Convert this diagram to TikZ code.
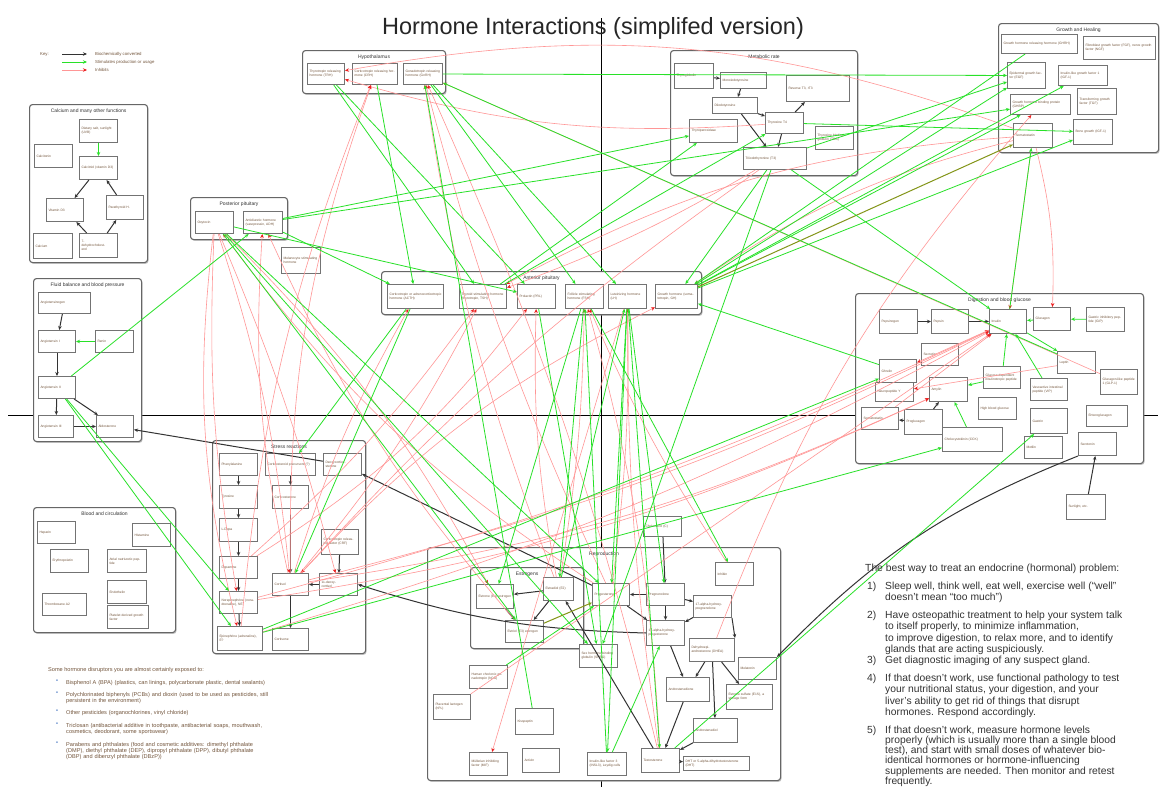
\documentclass[tikz,border=0pt]{standalone}
\usepackage{fontspec}
\setmainfont{Liberation Sans}
\usetikzlibrary{arrows.meta,shadows,calc}
\definecolor{stimg}{RGB}{40,225,40}
\definecolor{inhr}{RGB}{255,150,150}
\definecolor{inhrh}{RGB}{235,30,30}
\definecolor{txtc}{RGB}{115,85,60}
\definecolor{bulc}{RGB}{60,110,190}
\tikzset{
 sbox/.style={draw=black!55, line width=1pt, fill=white, anchor=north west, inner sep=2pt, align=left, font=\fontsize{3.3}{3.9}\selectfont, text=txtc},
 gbox/.style={draw=black!60, line width=1.1pt, rounded corners=3pt, fill=white, anchor=north west, inner sep=0pt, drop shadow={shadow xshift=1pt, shadow yshift=-1.3pt, fill=black!45}},
 gtitle/.style={font=\fontsize{5}{6}\selectfont, text=black!80, inner sep=0pt},
 conv/.style={draw=black!80, line width=1pt, -{Stealth[length=4pt,width=3.5pt]}},
 stim/.style={draw=stimg, line width=0.8pt, -{Stealth[length=4pt,width=3.5pt]}},
 inh/.style={draw=inhr, line width=0.6pt, -{Stealth[length=4pt,width=3.5pt,color=inhrh]}},
 mix/.style={draw=olive!70!stimg, line width=1pt, -{Stealth[length=4pt,width=3.5pt]}},
 keytxt/.style={font=\fontsize{4.3}{5}\selectfont, text=txtc, anchor=west, inner sep=0pt},
 bigtxt/.style={font=\fontsize{10.3}{11.3}\selectfont, text=black!80, anchor=north west, inner sep=0pt, align=left},
 smtxt/.style={font=\fontsize{5.6}{6.3}\selectfont, text=txtc, anchor=north west, inner sep=0pt, align=left},
}
\newcommand\mybox[6]{%
 \pgfmathsetmacro\bxW{#4-#2}\pgfmathsetmacro\bxH{#5-#3}\pgfmathsetmacro\bxT{#4-#2-4}%
 \node[sbox,minimum width=\bxW pt,minimum height=\bxH pt,text width=\bxT pt] (#1) at (#2,#3) {#6};}
\newcommand\mygroup[6]{%
 \pgfmathsetmacro\bxW{#4-#2}\pgfmathsetmacro\bxH{#5-#3}%
 \node[gbox,minimum width=\bxW pt,minimum height=\bxH pt] (#1) at (#2,#3) {};%
 \node[gtitle] (#1t) at ($(#1.north)+(0,7)$) {#6};}
\begin{document}
\begin{tikzpicture}[x=1pt,y=-1pt]
\useasboundingbox[fill=white] (0,0) rectangle (1160,787);
% axes
\draw[line width=1pt] (601,18) -- (601,787);
\draw[line width=1pt] (8,415) -- (1158,415);
% title
\node[font=\fontsize{23.5}{28}\selectfont, text=black!85] (title) at (593,28) {Hormone Interactions (simplifed version)};
% key
\node[keytxt] (keyl) at (40,54) {Key:};
\coordinate (k1a) at (62,54); \coordinate (k1b) at (87,54);
\coordinate (k2a) at (62,62); \coordinate (k2b) at (87,62);
\coordinate (k3a) at (62,70); \coordinate (k3b) at (87,70);
\draw[conv] (k1a) -- (k1b);
\draw[stim] (k2a) -- (k2b);
\draw[inh] (k3a) -- (k3b);
\node[keytxt] (kt1) at (95,54) {Biochemically converted};
\node[keytxt] (kt2) at (95,62) {Stimulates production or usage};
\node[keytxt] (kt3) at (95,70) {Inhibits};

% ---------- groups
\mygroup{ca}{29}{104}{147}{262}{Calcium and many other functions}
\mygroup{pp}{190}{197}{287}{239}{Posterior pituitary}
\mygroup{hy}{302}{50}{445}{93}{Hypothalamus}
\mygroup{mr}{670}{50}{857}{175}{Metabolic rate}
\mygroup{gh}{998}{23}{1158}{152}{Growth and Healing}
\mygroup{ap}{381}{271}{701}{314}{Anterior pituitary}
\mygroup{fb}{33}{278}{141}{441}{Fluid balance and blood pressure}
\mygroup{dg}{855}{293}{1143}{463}{Digestion and blood glucose}
\mygroup{sr}{212}{440}{365}{653}{Stress reactions}
\mygroup{bc}{33}{507}{175}{632}{Blood and circulation}
\mygroup{rp}{427}{547}{780}{780}{Reproduction}
\mygroup{rpg}{470}{567}{583}{648}{Estrogens}

% ---------- calcium
\mybox{caDiet}{79}{119}{117}{142}{Dietary salt, sunlight (UVB)}
\mybox{caCalcitonin}{34}{144}{72}{167}{Calcitonin}
\mybox{caCalcitriol}{79}{156}{117}{179}{Calcitriol (vitamin D3)}
\mybox{caVitD}{46}{198}{83}{221}{Vitamin D3}
\mybox{caPTH}{106}{195}{143}{219}{Parathyroid H.}
\mybox{caCalcium}{33}{233}{72}{258}{Calcium}
\mybox{caDehydro}{79}{233}{117}{257}{7-\\dehydrocholest-\\erol}
% ---------- posterior pituitary
\mybox{ppOxy}{195}{211}{233}{233}{Oxytocin}
\mybox{ppADH}{243}{211}{282}{233}{Antidiuretic hormone (vasopressin, ADH)}
\mybox{msh}{281}{247}{320}{273}{Melanocyte stimulating hormone}
% ---------- hypothalamus
\mybox{hyTRH}{307}{63}{344}{84}{Thyrotropin releasing hormone (TRH)}
\mybox{hyCRH}{352}{63}{397}{84}{Corticotropin releasing hormone (CRH)}
\mybox{hyGnRH}{403}{63}{442}{84}{Gonadotropin releasing hormone (GnRH)}
% ---------- metabolic
\mybox{mrTg}{674}{63}{713}{88}{Thyroglobulin}
\mybox{mrMIT}{720}{72}{766}{88}{Monoiodotyrosine}
\mybox{mrDIT}{712}{97}{757}{113}{Diiodotyrosine}
\mybox{mrRT3}{786}{75}{849}{101}{Reverse T3, rT3}
\mybox{mrT4}{765}{112}{803}{133}{Thyroxine T4}
\mybox{mrTPO}{689}{119}{737}{142}{Thyroperoxidase}
\mybox{mrT3}{743}{147}{806}{169}{Triiodothyronine (T3)}
\mybox{mrTBG}{815}{126}{853}{149}{Thyroxine binding globulin (TBG)}
% ---------- growth
\mybox{ghGHRH}{1001}{34}{1077}{53}{Growth hormone releasing hormone (GHRH)}
\mybox{ghFGF}{1083}{36}{1155}{59}{Fibroblast growth factor (FGF), nerve growth factor (NGF)}
\mybox{ghEGF}{1007}{62}{1045}{88}{Epidermal growth factor (EGF)}
\mybox{ghIGF}{1058}{65}{1107}{85}{Insulin-like growth factor 1 (IGF-1)}
\mybox{ghGHIH}{1010}{94}{1070}{114}{Growth hormone binding protein (GHBP)}
\mybox{ghTGF}{1077}{88}{1116}{114}{Transforming growth factor (TGF)}
\mybox{ghSS}{1013}{123}{1052}{147}{Somatostatin}
\mybox{ghBone}{1073}{119}{1112}{144}{Bone growth (IGF-1)}
% ---------- anterior pituitary
\mybox{apACTH}{387}{284}{443}{308}{Corticotropin or adrenocorticotropic hormone (ACTH)}
\mybox{apTSH}{459}{284}{506}{308}{Thyroid stimulating hormone (thyrotropin, TSH)}
\mybox{apPRL}{517}{284}{555}{308}{Prolactin (PRL)}
\mybox{apFSH}{565}{284}{603}{308}{Follicle stimulating hormone (FSH)}
\mybox{apLH}{608}{284}{646}{308}{Luteinizing hormone (LH)}
\mybox{apGH}{655}{284}{697}{308}{Growth hormone (somatotropin, GH)}
% ---------- fluid
\mybox{fbAgt}{38}{292}{90}{313}{Angiotensinogen}
\mybox{fbA1}{38}{330}{75}{352}{Angiotensin I}
\mybox{fbRenin}{95}{330}{133}{352}{Renin}
\mybox{fbA2}{38}{376}{75}{398}{Angiotensin II}
\mybox{fbA3}{38}{415}{73}{437}{Angiotensin III}
\mybox{fbAldo}{96}{415}{133}{437}{Aldosterone}
% ---------- digestion
\mybox{dgPepsinogen}{879}{309}{917}{333}{Pepsinogen}
\mybox{dgPepsin}{931}{309}{968}{333}{Pepsin}
\mybox{dgInsulin}{989}{309}{1026}{333}{Insulin}
\mybox{dgGlucagon}{1033}{307}{1070}{330}{Glucagon}
\mybox{dgGIPtop}{1086}{307}{1124}{331}{Gastric inhibitory peptide (GIP)}
\mybox{dgSecretin}{921}{343}{958}{365}{Secretin}
\mybox{dgLeptin}{1057}{351}{1095}{373}{Leptin}
\mybox{dgCGRP}{1100}{369}{1137}{394}{Glucagon-like peptide 1 (GLP-1)}
\mybox{dgGhrelin}{879}{359}{916}{382}{Ghrelin}
\mybox{dgNPY}{875}{382}{913}{401}{Neuropeptide Y}
\mybox{dgAmylin}{929}{377}{967}{401}{Amylin}
\mybox{dgGLP}{983}{366}{1020}{388}{Glucose-dependent insulinotropic peptide}
\mybox{dgVIP}{1030}{378}{1067}{400}{Vasoactive intestinal peptide (VIP)}
\mybox{dgHigh}{978}{397}{1016}{419}{High blood glucose}
\mybox{dgSomato}{861}{407}{898}{429}{Somatostatin}
\mybox{dgProglu}{904}{409}{942}{434}{Proglucagon}
\mybox{dgCCK}{942}{427}{1002}{451}{Cholecystokinin (CCK)}
\mybox{dgGastrin}{1030}{408}{1067}{433}{Gastrin}
\mybox{dgEntero}{1086}{405}{1127}{426}{Enteroglucagon}
\mybox{dgMotilin}{1024}{436}{1062}{458}{Motilin}
\mybox{dgSerotonin}{1078}{432}{1116}{455}{Serotonin}
\mybox{sun}{1066}{494}{1105}{519}{Sunlight, etc.}
% ---------- stress
\mybox{srPhe}{219}{453}{257}{475}{Phenylalanine}
\mybox{srPreg}{265}{453}{315}{475}{Corticosteroid precursors (?)}
\mybox{srDOC}{323}{453}{361}{475}{Deoxycortico-\\sterone}
\mybox{srTyr}{219}{485}{257}{508}{Tyrosine}
\mybox{srCort}{272}{485}{308}{508}{Corticosterone}
\mybox{srLdopa}{219}{518}{257}{541}{L-Dopa}
\mybox{srCRF}{321}{529}{358}{554}{Corticotropin releasing factor (CRF)}
\mybox{srDopa}{219}{556}{257}{578}{Dopamine}
\mybox{srCortisol}{272}{573}{308}{595}{Cortisol}
\mybox{srDeoxy}{319}{573}{357}{595}{11-deoxy-\\cortisol}
\mybox{srNE}{219}{591}{257}{613}{Norepinephrine (noradrenaline), NE}
\mybox{srEpi}{217}{626}{262}{650}{Epinephrine (adrenaline), E?}
\mybox{srCortisone}{272}{628}{308}{650}{Cortisone}
% ---------- blood
\mybox{bcHeparin}{37}{521}{75}{543}{Heparin}
\mybox{bcHistamine}{132}{523}{170}{546}{Histamine}
\mybox{bcEPO}{50}{549}{88}{572}{Erythropoietin}
\mybox{bcANP}{107}{549}{146}{572}{Atrial natriuretic peptide}
\mybox{bcEndo}{107}{580}{146}{603}{Endothelin}
\mybox{bcTXA}{42}{593}{86}{615}{Thromboxane A2}
\mybox{bcPDGF}{107}{605}{148}{628}{Platelet derived growth factor}
% ---------- reproduction
\mybox{rpE1}{476}{584}{513}{608}{Estrone (E1) estrogen}
\mybox{rpE2}{543}{577}{573}{600}{Estradiol (E2)}
\mybox{rpE3}{505}{620}{543}{642}{Estriol (E3) estrogen}
\mybox{rpProg}{592}{583}{629}{605}{Progesterone}
\mybox{rpPreg}{646}{583}{684}{605}{Pregnenolone}
\mybox{rpChol}{643}{516}{681}{536}{Cholesterol (C)}
\mybox{rp17Preg}{693}{595}{731}{617}{17-alpha-hydroxy-pregnenolone}
\mybox{rp17P}{646}{620}{684}{645}{17-alpha-hydroxy-progesterone}
\mybox{rpDHEA}{689}{638}{734}{661}{Dehydroepi-\\androsterone (DHEA)}
\mybox{rpSHBG}{579}{644}{617}{667}{Sex hormone binding globulin (SHBG)}
\mybox{rpInhibin}{715}{562}{753}{585}{Inhibin}
\mybox{rpMelatonin}{738}{657}{776}{679}{Melatonin}
\mybox{rphCG}{469}{665}{507}{688}{Human chorionic gonadotropin (hCG)}
\mybox{rphPL}{433}{694}{470}{719}{Placental lactogen (hPL)}
\mybox{rpAndro}{666}{677}{709}{701}{Androstenedione}
\mybox{rpES}{726}{684}{772}{709}{Estrone sulfate (E1S), a storage form}
\mybox{rpKiss}{515}{708}{553}{734}{Kisspeptin}
\mybox{rpAdiol}{693}{718}{737}{742}{Androstenediol}
\mybox{rpMIF}{469}{752}{507}{775}{M\"ullerian inhibiting factor (MIF)}
\mybox{rpAct}{522}{748}{559}{772}{Activin}
\mybox{rpINSL}{587}{752}{626}{775}{Insulin-like factor 3 (INSL3), Leydig cells}
\mybox{rpTesto}{641}{748}{679}{772}{Testosterone}
\mybox{rpDHT}{683}{756}{749}{770}{DHT or 5-alpha-dihydrotestosterone (DHT)}

% ================= connectors: conversions
\draw[stim] (caDiet) -- (caCalcitriol);
\draw[conv] (caCalcitriol) -- (caVitD);
\draw[conv] (caPTH) -- (caCalcitriol);
\draw[conv] (caDehydro) -- (caVitD);
\draw[conv] (caDehydro) -- (caPTH);
\draw[conv] (mrTg) -- (mrMIT);
\draw[conv] (mrMIT) -- (mrDIT);
\draw[conv] (mrDIT) -- (mrT4);
\draw[conv] (mrDIT) -- (mrT3);
\draw[conv] (mrT4) -- (mrRT3);
\draw[conv] (mrT4) -- (mrT3);
\draw[conv] (fbAgt) -- (fbA1);
\draw[conv] (fbA1) -- (fbA2);
\draw[conv] (fbA2) -- (fbA3);
\draw[conv] (fbA3) -- (fbAldo);
\draw[conv] (fbA2) -- (fbAldo);
\draw[stim] (fbRenin) -- (fbA1);
\draw[conv] (dgPepsinogen) -- (dgPepsin);
\draw[conv] (dgPepsin) -- (dgInsulin);
\draw[conv] (dgProglu) -- (dgSomato);
\draw[conv] (dgProglu) -- (dgAmylin);
\draw[conv] (sun) -- (dgSerotonin);
\draw[conv] (dgSerotonin.south west) to[bend right=12] (rpMelatonin.north east);
\draw[conv] (srPhe) -- (srTyr);
\draw[conv] (srTyr) -- (srLdopa);
\draw[conv] (srLdopa) -- (srDopa);
\draw[conv] (srDopa) -- (srNE);
\draw[conv] (srNE) -- (srEpi);
\draw[conv] (srPreg) -- (srCort);
\draw[conv] (srCort) -- (srCortisol);
\draw[conv] (srCortisol) -- (srCortisone);
\draw[conv] (srDeoxy) -- (srCortisol);
\draw[conv] (srCRF) -- (srDeoxy);
\draw[conv] (rpProg) -- (srDOC);
\draw[conv] (srDOC) -- (fbAldo);
\draw[conv] (rp17P.west) to[bend left=8] (srDeoxy.east);
\draw[conv] (rpChol) -- (rpPreg);
\draw[conv] (rpPreg) -- (rpProg);
\draw[conv] (rpPreg) -- (rp17Preg);
\draw[conv] (rpPreg) -- (rp17P);
\draw[conv] (rp17Preg) -- (rp17P);
\draw[conv] (rpProg) -- (rp17P);
\draw[conv] (rp17Preg.south east) -- (rpDHEA.north east);
\draw[conv] (rp17P) -- (rpAndro);
\draw[conv] (rpDHEA) -- (rpAndro);
\draw[conv] (rpDHEA) -- (rpES);
\draw[conv] (rpDHEA) -- (rpAdiol);
\draw[conv] (rpAndro) -- (rpTesto);
\draw[conv] (rpAdiol) -- (rpTesto);
\draw[conv] (rpTesto) -- (rpDHT);
\draw[conv] (rpTesto) -- (rpE2);
\draw[conv] (rpE1) -- (rpE3);
\draw[conv] (rpE2) -- (rpE3);
\draw[conv] (rpE2) -- (rpE1);

% ================= inhibits
\draw[inh] (srCortisol) to[bend left=10] (hyCRH);
\draw[inh] (srCortisol) to[bend left=6] (apACTH);
\draw[inh] (srCortisol) to[bend left=8] (ppADH);
\draw[inh] (srCortisol) to[bend right=6] (apTSH);
\draw[inh] (srCortisol) to[bend right=8] (dgAmylin);
\draw[inh] (srCortisol) to[bend right=6] (dgInsulin);
\draw[inh] (rpE2) to[bend left=6] (hyGnRH);
\draw[inh] (rpTesto) to[bend right=5] (hyGnRH);
\draw[inh] (rpProg) to[bend left=5] (hyGnRH);
\draw[inh] (rpProg) to[bend left=10] (ppOxy);
\draw[inh] (rpInhibin) to[bend left=5] (apFSH);
\draw[inh] (rpTesto) to[bend left=4] (apLH);
\draw[inh] (rpProg) to[bend right=4] (apLH);
\draw[inh] (rpE2) to[bend right=4] (apFSH);
\draw[inh] (rpTesto) to[bend right=6] (apFSH);
\draw[inh] (rpE2) to[bend left=6] (apPRL);
\draw[inh] (mrT4) to[bend left=10] (hyTRH);
\draw[inh] (mrT3) to[bend left=5] (apTSH);
\draw[inh] (mrT3) to[bend right=6] (srCortisol);
\draw[inh] (ghSS) to[bend right=10] (apGH);
\draw[inh] (ghSS) to[bend right=12] (apTSH);
\draw[inh] (ghSS) to[bend right=15] (hyTRH);
\draw[inh] (ghSS) -- (dgInsulin);
\draw[inh] (ghSS) to[bend left=8] (dgGlucagon);
\draw[inh] (srEpi) to[bend right=6] (dgInsulin);
\draw[inh] (srNE) to[bend right=5] (dgInsulin);
\draw[inh] (srNE) to[bend right=8] (dgAmylin);
\draw[inh] (dgSomato) -- (dgInsulin);
\draw[inh] (rphPL) -- (dgInsulin);
\draw[inh] (apLH) -- (rpMIF);
\draw[inh] (ppOxy) to[bend right=10] (srEpi);
\draw[inh] (ppOxy) to[bend right=6] (srNE);
\draw[inh] (ppOxy) to[bend left=6] (srCortisol);
\draw[inh] (ppOxy) to[bend left=8] (rpE1);
\draw[inh] (ppOxy) to[bend left=4] (srDeoxy);
\draw[inh] (srDopa) to[bend right=10] (apPRL);
\draw[inh] (srDopa) to[bend right=6] (apTSH);
\draw[inh] (dgCGRP) -- (hyGnRH);
\draw[inh] (dgInsulin) -- (dgGhrelin);
\draw[inh] (dgLeptin) -- (dgNPY);
\draw[inh] (srCortisol) to[bend left=10] (apGH);
\draw[inh] (rpE3) to[bend left=8] (ppADH);
\draw[inh] (srEpi) to[bend left=8] (hyCRH);
\draw[inh] (rpDHEA) to[bend left=10] (ghGHIH);

% ================= stimulates
\draw[stim] (fbA2) -- (ppADH);
\draw[stim] (fbA2) -- (srNE);
\draw[stim] (fbA2) -- (srEpi);
\draw[stim] (srEpi) -- (dgCCK);
\draw[stim] (hyTRH) -- (apTSH);
\draw[stim] (hyTRH) -- (apPRL);
\draw[stim] (hyCRH) -- (apACTH);
\draw[stim] (hyGnRH) -- (apFSH);
\draw[stim] (hyGnRH) -- (apLH);
\draw[stim] (hyGnRH) -- (ghEGF);
\draw[stim] (ghGHRH) -- (apGH);
\draw[stim] (apGH) -- (ghIGF);
\draw[stim] (apGH) -- (ghEGF);
\draw[stim] (apGH) -- (ghBone);
\draw[stim] (apGH) -- (ghGHIH);
\draw[mix] (apGH) -- (ghSS);
\draw[stim] (apTSH) -- (mrT4);
\draw[stim] (apTSH) -- (mrTPO);
\draw[stim] (apACTH) -- (srCortisol);
\draw[stim] (apACTH) -- (srPreg);
\draw[stim] (apFSH) -- (rpE2);
\draw[stim] (apFSH) -- (rpE1);
\draw[stim] (apFSH) -- (rpInhibin);
\draw[stim] (apLH) -- (rpTesto);
\draw[stim] (apLH) -- (rpProg);
\draw[stim] (apLH) -- (rpPreg);
\draw[stim] (apLH) -- (rpINSL);
\draw[stim] (apPRL) -- (rpSHBG);
\draw[stim] (ppOxy) -- (rpE3);
\draw[stim] (ppOxy) -- (rpSHBG);
\draw[stim] (ppOxy) -- (rpProg);
\draw[stim] (ppOxy) -- (apPRL);
\draw[stim] (ppADH) -- (apACTH);
\draw[stim] (ppADH) -- (mrTPO);
\draw[stim] (ppADH) -- (ghGHIH);
\draw[stim] (mrT3) -- (dgInsulin);
\draw[stim] (mrT3) -- (rpSHBG);
\draw[stim] (mrT3) -- (apGH);
\draw[stim] (mrT4) -- (ghBone);
\draw[stim] (dgGlucagon) -- (dgInsulin);
\draw[stim] (dgGIPtop) -- (dgGlucagon);
\draw[stim] (dgInsulin) -- (dgLeptin);
\draw[stim] (dgInsulin) -- (ghSS);
\draw[stim] (dgGLP) -- (dgAmylin);
\draw[stim] (dgCCK) -- (dgAmylin);
\draw[stim] (dgVIP) -- (dgInsulin);
\draw[stim] (dgGLP) -- (dgInsulin);
\draw[stim] (dgLeptin) -- (hyGnRH);
\draw[stim] (dgGhrelin) -- (apGH);
\draw[stim] (rpTesto) -- (dgGastrin);
\draw[stim] (rpINSL) -- (rp17P);
\draw[stim] (rpINSL) -- (apFSH);
\draw[stim] (rpKiss) -- (hyGnRH);
\draw[stim] (rphCG) -- (rpProg);
\draw[stim] (rpE2) -- (apLH);
\draw[mix] (rpE3) -- (rpProg);
\draw[stim] (srEpi) -- (dgGhrelin);
\draw[stim] (mrT3) -- (ghEGF);

% ================= texts
\node[smtxt] (dis0) at (48,667) {Some hormone disruptors you are almost certainly exposed to:};
\node[smtxt, text=bulc] (b1) at (56,680) {\textbullet};
\node[smtxt, text width=230pt] (d1) at (66,680) {Bisphenol A (BPA) (plastics, can linings, polycarbonate plastic, dental sealants)};
\node[smtxt, text=bulc] (b2) at (56,692) {\textbullet};
\node[smtxt, text width=230pt] (d2) at (66,692) {Polychlorinated biphenyls (PCBs) and dioxin (used to be used as pesticides, still\\persistent in the environment)};
\node[smtxt, text=bulc] (b3) at (56,710) {\textbullet};
\node[smtxt, text width=230pt] (d3) at (66,710) {Other pesticides (organochlorines, vinyl chloride)};
\node[smtxt, text=bulc] (b4) at (56,723) {\textbullet};
\node[smtxt, text width=230pt] (d4) at (66,723) {Triclosan (antibacterial additive in toothpaste, antibacterial soaps, mouthwash,\\cosmetics, deodorant, some sportswear)};
\node[smtxt, text=bulc] (b5) at (56,742) {\textbullet};
\node[smtxt, text width=230pt] (d5) at (66,742) {Parabens and phthalates (food and cosmetic additives: dimethyl phthalate\\(DMP), diethyl phthalate (DEP), dipropyl phthalate (DPP), dibutyl phthalate\\(DBP) and dibenzyl phthalate (DBzP))};

\node[bigtxt] (t0) at (865,564) {The best way to treat an endocrine (hormonal) problem:};
\node[bigtxt] (n1) at (867,582) {1)};
\node[bigtxt] (t1) at (885,582) {Sleep well, think well, eat well, exercise well (``well''\\doesn't mean ``too much'')};
\node[bigtxt] (n2) at (867,611) {2)};
\node[bigtxt] (t2) at (885,611) {Have osteopathic treatment to help your system talk\\to itself properly, to minimize inflammation,\\to improve digestion, to relax more, and to identify\\glands that are acting suspiciously.};
\node[bigtxt] (n3) at (867,656) {3)};
\node[bigtxt] (t3) at (885,656) {Get diagnostic imaging of any suspect gland.};
\node[bigtxt] (n4) at (867,674) {4)};
\node[bigtxt] (t4) at (885,674) {If that doesn't work, use functional pathology to test\\your nutritional status, your digestion, and your\\liver's ability to get rid of things that disrupt\\hormones. Respond accordingly.};
\node[bigtxt] (n5) at (867,726) {5)};
\node[bigtxt, font=\fontsize{10.3}{10.1}\selectfont] (t5) at (885,726) {If that doesn't work, measure hormone levels\\properly (which is usually more than a single blood\\test), and start with small doses of whatever bio-\\identical hormones or hormone-influencing\\supplements are needed. Then monitor and retest\\frequently.};
\end{tikzpicture}
\end{document}
